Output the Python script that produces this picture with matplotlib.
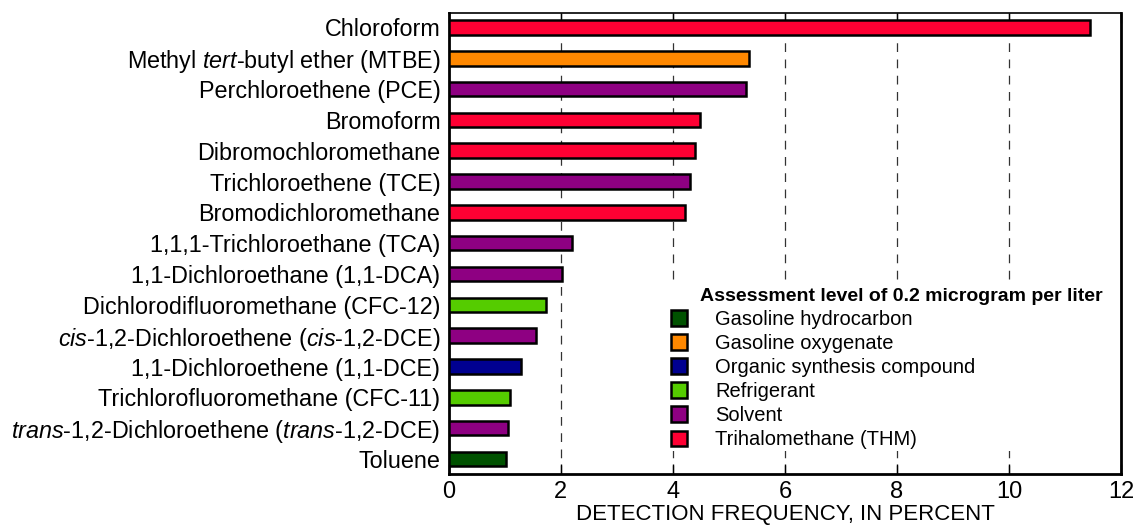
import matplotlib
matplotlib.use("Agg")
import matplotlib.pyplot as plt
from matplotlib.patches import Patch, Rectangle

# Data
compounds = [
    "Chloroform",
    r"Methyl $\it{tert}$-butyl ether (MTBE)",
    "Perchloroethene (PCE)",
    "Bromoform",
    "Dibromochloromethane",
    "Trichloroethene (TCE)",
    "Bromodichloromethane",
    "1,1,1-Trichloroethane (TCA)",
    "1,1-Dichloroethane (1,1-DCA)",
    "Dichlorodifluoromethane (CFC-12)",
    r"$\it{cis}$-1,2-Dichloroethene ($\it{cis}$-1,2-DCE)",
    "1,1-Dichloroethene (1,1-DCE)",
    "Trichlorofluoromethane (CFC-11)",
    r"$\it{trans}$-1,2-Dichloroethene ($\it{trans}$-1,2-DCE)",
    "Toluene",
]
frequency = [11.45, 5.36, 5.30, 4.48, 4.39, 4.31, 4.22, 2.20, 2.02, 1.74, 1.56, 1.29, 1.09, 1.05, 1.03]
group = ["THM", "oxy", "solv", "THM", "THM", "solv", "THM", "solv", "solv", "refr", "solv", "org", "refr", "solv", "gas"]

groups = ["gas", "oxy", "org", "refr", "solv", "THM"]
group_labels = ["Gasoline hydrocarbon", "Gasoline oxygenate", "Organic synthesis compound",
                "Refrigerant", "Solvent", "Trihalomethane (THM)"]
group_colors = {"gas": "#005200", "oxy": "#FF8800", "org": "#000090",
                "refr": "#55CC00", "solv": "#8E0082", "THM": "#FF0033"}

plt.rcParams["font.family"] = "Liberation Sans"
plt.rcParams["mathtext.fontset"] = "custom"
plt.rcParams["mathtext.it"] = "Liberation Sans:italic"
plt.rcParams["mathtext.rm"] = "Liberation Sans"

fig = plt.figure(figsize=(11.36, 5.30), dpi=100)
ax = fig.add_axes([0.395, 0.106, 0.592, 0.869])

ypos = list(range(len(compounds)))
ax.barh(ypos, frequency, height=0.47, color=[group_colors[g] for g in group],
        edgecolor="black", linewidth=1.8, zorder=3)

ax.set_xlim(0, 12)
ax.set_ylim(len(compounds) - 0.52, -0.46)
ax.set_xticks(range(0, 13, 2))
ax.set_yticks(ypos)
ax.set_yticklabels(compounds, fontsize=16.8)
ax.tick_params(axis="y", length=0, pad=6)
ax.tick_params(axis="x", direction="in", top=True, length=7, width=1, labelsize=17, pad=5)

for x in range(2, 12, 2):
    ax.axvline(x, color="#333333", linestyle=(0, (7, 6)), linewidth=0.9, zorder=1)

for side in ["left", "bottom", "right"]:
    ax.spines[side].set_linewidth(2)
ax.spines["top"].set_linewidth(1.2)

ax.set_xlabel("DETECTION FREQUENCY, IN PERCENT", fontsize=16, labelpad=1)

# white panel behind the legend
ax.add_patch(Rectangle((0.315, 0.05), 0.675, 0.365, transform=ax.transAxes,
                       facecolor="white", edgecolor="none", zorder=2))
ax.text(0.374, 0.385, "Assessment level of 0.2 microgram per liter", transform=ax.transAxes,
        fontsize=14, fontweight="bold", ha="left", va="center", zorder=4)
handles = [Patch(facecolor=group_colors[g], edgecolor="black", linewidth=1.8) for g in groups]
leg = ax.legend(handles, group_labels, loc="upper left", bbox_to_anchor=(0.327, 0.36),
                frameon=False, fontsize=14.5, handlelength=0.8, handleheight=0.8,
                handletextpad=1.4, labelspacing=0.25, borderpad=0.1, borderaxespad=0)
leg.set_zorder(5)

fig.savefig("out.png", dpi=100)
